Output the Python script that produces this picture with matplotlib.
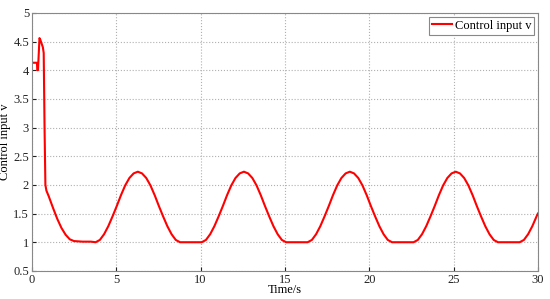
import matplotlib.pyplot as plt

# time (s) and control input v
t_start = [0.0, 0.30, 0.32, 0.36, 0.45, 0.50, 0.65, 0.70, 0.75, 0.80, 0.86,
           1.0, 1.25, 1.5, 1.75, 2.0, 2.25, 2.5, 3.0, 3.5]
v_start = [4.13, 4.13, 4.00, 4.00, 4.56, 4.53, 4.40, 4.30, 3.00, 2.00, 1.90,
           1.80, 1.60, 1.41, 1.25, 1.13, 1.05, 1.02, 1.01, 1.01]

t_c1 = [3.78, 4.03, 4.28, 4.53, 4.78, 5.03, 5.28, 5.53, 5.78, 6.03, 6.28,
        6.53, 6.78, 7.03, 7.28, 7.53, 7.78, 8.03, 8.28, 8.53, 8.78]
t_c2 = [10.07, 10.32, 10.57, 10.82, 11.07, 11.32, 11.57, 11.82, 12.07, 12.32, 12.57,
        12.82, 13.07, 13.32, 13.57, 13.82, 14.07, 14.32, 14.57, 14.82, 15.07]
t_c3 = [16.35, 16.60, 16.85, 17.10, 17.35, 17.60, 17.85, 18.10, 18.35, 18.60, 18.85,
        19.10, 19.35, 19.60, 19.85, 20.10, 20.35, 20.60, 20.85, 21.10, 21.35]
t_c4 = [22.63, 22.88, 23.13, 23.38, 23.63, 23.88, 24.13, 24.38, 24.63, 24.88, 25.13,
        25.38, 25.63, 25.88, 26.13, 26.38, 26.63, 26.88, 27.13, 27.38, 27.63]
v_cycle = [1.00, 1.04, 1.14, 1.28, 1.45, 1.63, 1.82, 1.99, 2.12, 2.20, 2.23,
           2.20, 2.12, 1.99, 1.82, 1.63, 1.45, 1.28, 1.14, 1.04, 1.00]

t_end = [28.92, 29.17, 29.42, 29.67, 29.92, 30.0]
v_end = [1.00, 1.04, 1.14, 1.28, 1.45, 1.50]

time = t_start + t_c1 + t_c2 + t_c3 + t_c4 + t_end
v = v_start + v_cycle * 4 + v_end

plt.rcParams['font.family'] = ['Liberation Serif', 'DejaVu Serif']

fig = plt.figure(figsize=(5.5, 2.99), dpi=100)
ax = fig.add_axes([0.058, 0.094, 0.92, 0.863])

ax.plot(time, v, color='#ff0000', linewidth=1.5, label='Control input v')

ax.set_xlim(0, 30)
ax.set_ylim(0.5, 5)
ax.set_xticks([0, 5, 10, 15, 20, 25, 30])
ax.set_yticks([0.5, 1, 1.5, 2, 2.5, 3, 3.5, 4, 4.5, 5])
ax.set_yticklabels(['0.5', '1', '1.5', '2', '2.5', '3', '3.5', '4', '4.5', '5'])
ax.tick_params(direction='in', labelsize=9, length=3, pad=2, colors='#222222')
ax.grid(True, color='#b0b0b0', linestyle=':', linewidth=0.8)
for s in ax.spines.values():
    s.set_color('#888888')
    s.set_linewidth(0.8)

ax.set_xlabel('Time/s', fontsize=9, labelpad=-1)
ax.set_ylabel('Control input v', fontsize=9, labelpad=2)

leg = ax.legend(loc='upper right', fontsize=9, handlelength=1.6, handletextpad=0.2,
                borderpad=0.25, borderaxespad=0.3, fancybox=False, framealpha=1)
leg.get_frame().set_edgecolor('#888888')
leg.get_frame().set_linewidth(0.8)

fig.savefig('out.png', dpi=100)
